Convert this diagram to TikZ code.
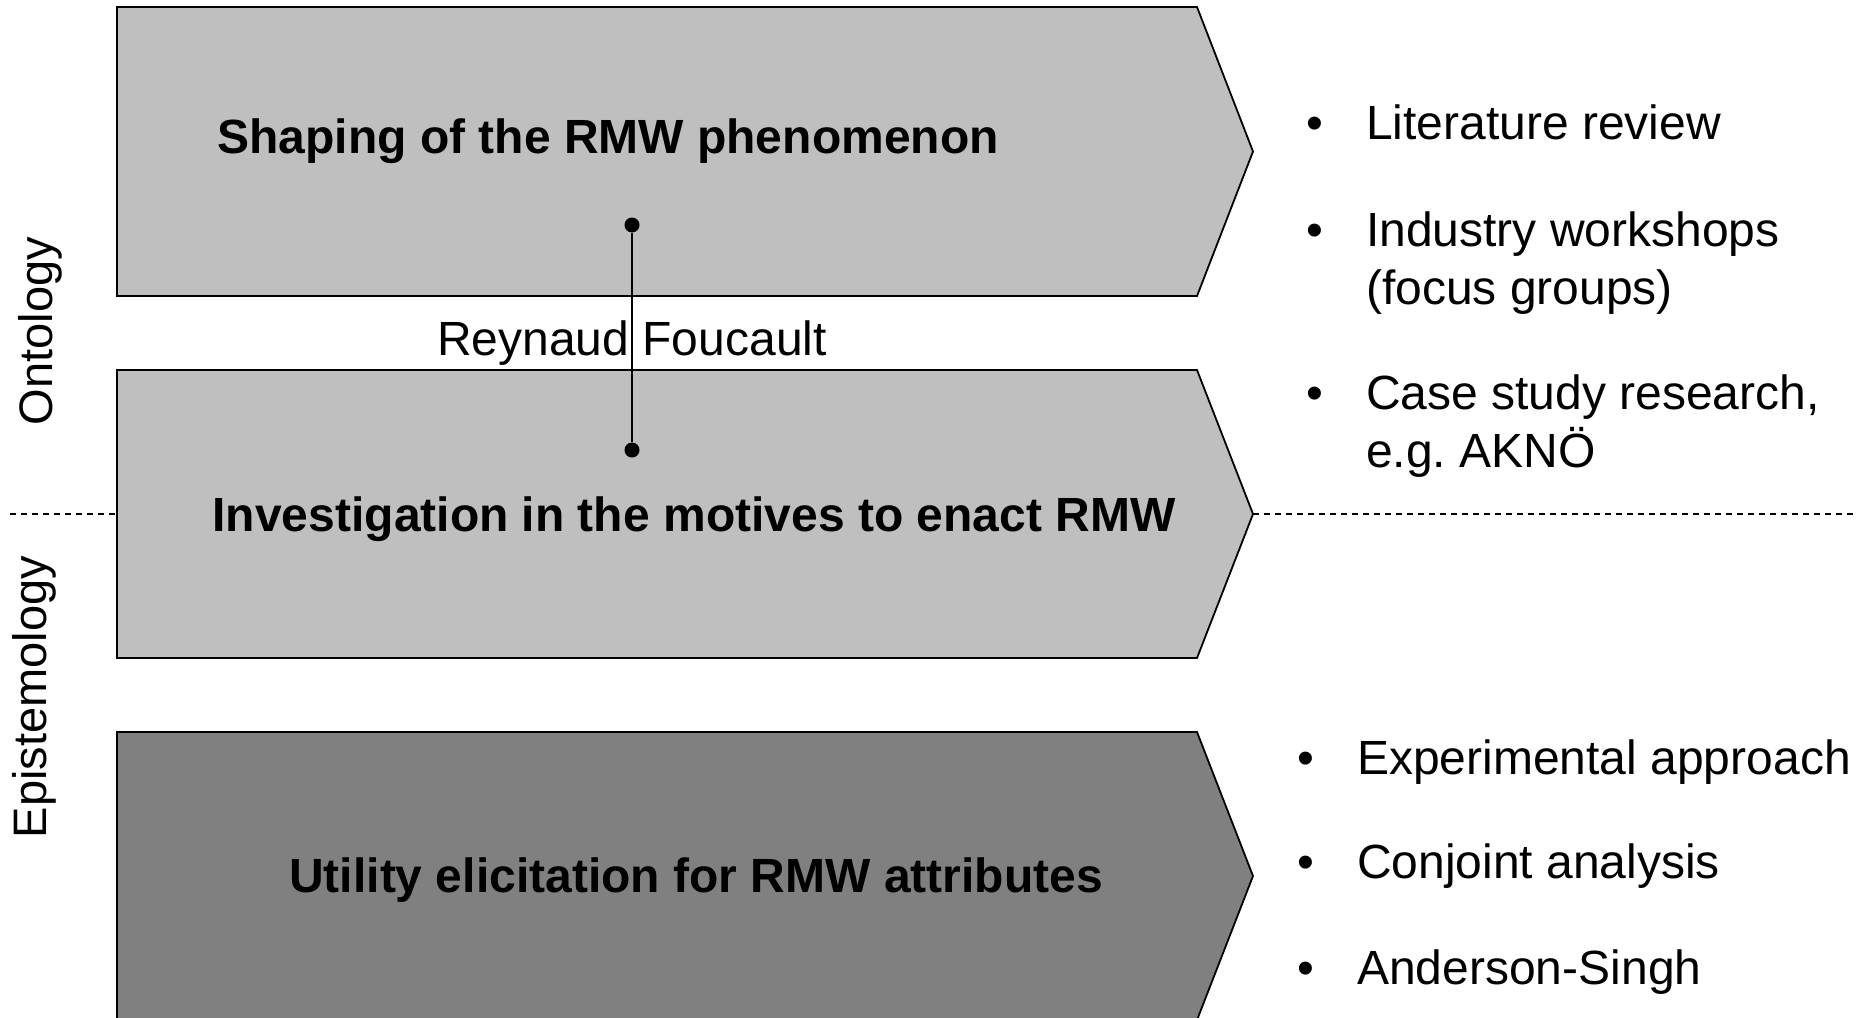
\documentclass[tikz,border=0pt]{standalone}
\usepackage{fontspec}
\setmainfont{Liberation Sans}
\definecolor{stagelight}{HTML}{BFBFBF}
\definecolor{stagedark}{HTML}{808080}
\begin{document}
\begin{tikzpicture}[x=1pt,y=-1pt,
  stage/.style={draw=black,line width=1.8pt,line join=miter},
  title/.style={anchor=base,inner sep=0pt,font=\fontsize{48}{56}\selectfont\bfseries},
  plain/.style={inner sep=0pt,font=\fontsize{48}{56}\selectfont},
  bulletmark/.style={plain,anchor=base},
  item/.style={plain,anchor=base west},
  axislabel/.style={inner sep=0pt,font=\fontsize{47}{56}\selectfont,anchor=base,rotate=90},
  divider/.style={line width=1.2pt,dash pattern=on 6pt off 5pt},
  pin/.style={circle,fill=black,inner sep=0pt,minimum size=15pt}]
\useasboundingbox (0,0) rectangle (1867,1017);

% three stages as chevrons
\filldraw[stage,fill=stagelight] (117,7) -- (1197,7) -- (1253,151.5) -- (1197,296) -- (117,296) -- cycle;
\filldraw[stage,fill=stagelight] (117,370) -- (1197,370) -- (1253,514) -- (1197,658) -- (117,658) -- cycle;
\filldraw[stage,fill=stagedark] (117,732) -- (1197,732) -- (1253,876) -- (1197,1020) -- (117,1020) -- cycle;

% stage titles
\node[title] (shaping) at (608,153) {Shaping of the RMW phenomenon};
\node[title] (motives) at (694,531) {Investigation in the motives to enact RMW};
\node[title] (utility) at (696,892) {Utility elicitation for RMW attributes};

% ontology / epistemology divider
\coordinate (dl0) at (10,514);
\coordinate (dl1) at (117,514);
\coordinate (dr0) at (1253,514);
\coordinate (dr1) at (1856,514);
\draw[divider] (dl0) -- (dl1);
\draw[divider] (dr0) -- (dr1);

\node[axislabel] (onto) at (52,331) {Ontology};
\node[axislabel] (episte) at (46,697) {Epistemology};

% link between the first two stages
\node[pin] (pa) at (632,225) {};
\node[pin] (pb) at (632,450) {};
\draw[line width=1.6pt] (pa) -- (pb);
\node[plain,anchor=base] (names) at (632,355) {Reynaud Foucault};

% methods of the first stages
\node[bulletmark] (u1) at (1315,139) {•};
\node[item] (t1) at (1366,139) {Literature review};
\node[bulletmark] (u2) at (1315,246) {•};
\node[item] (t2) at (1366,246) {Industry workshops};
\node[item] (t2b) at (1366,304) {(focus groups)};
\node[bulletmark] (u3) at (1315,409) {•};
\node[item] (t3) at (1366,409) {Case study research,};
\node[item] (t3b) at (1366,467) {e.g.\ AKNÖ};

% methods of the last stage
\node[bulletmark] (v1) at (1306,774) {•};
\node[item] (s1) at (1357,774) {Experimental approach};
\node[bulletmark] (v2) at (1306,878) {•};
\node[item] (s2) at (1357,878) {Conjoint analysis};
\node[bulletmark] (v3) at (1306,984) {•};
\node[item] (s3) at (1357,984) {Anderson-Singh};
\end{tikzpicture}
\end{document}
